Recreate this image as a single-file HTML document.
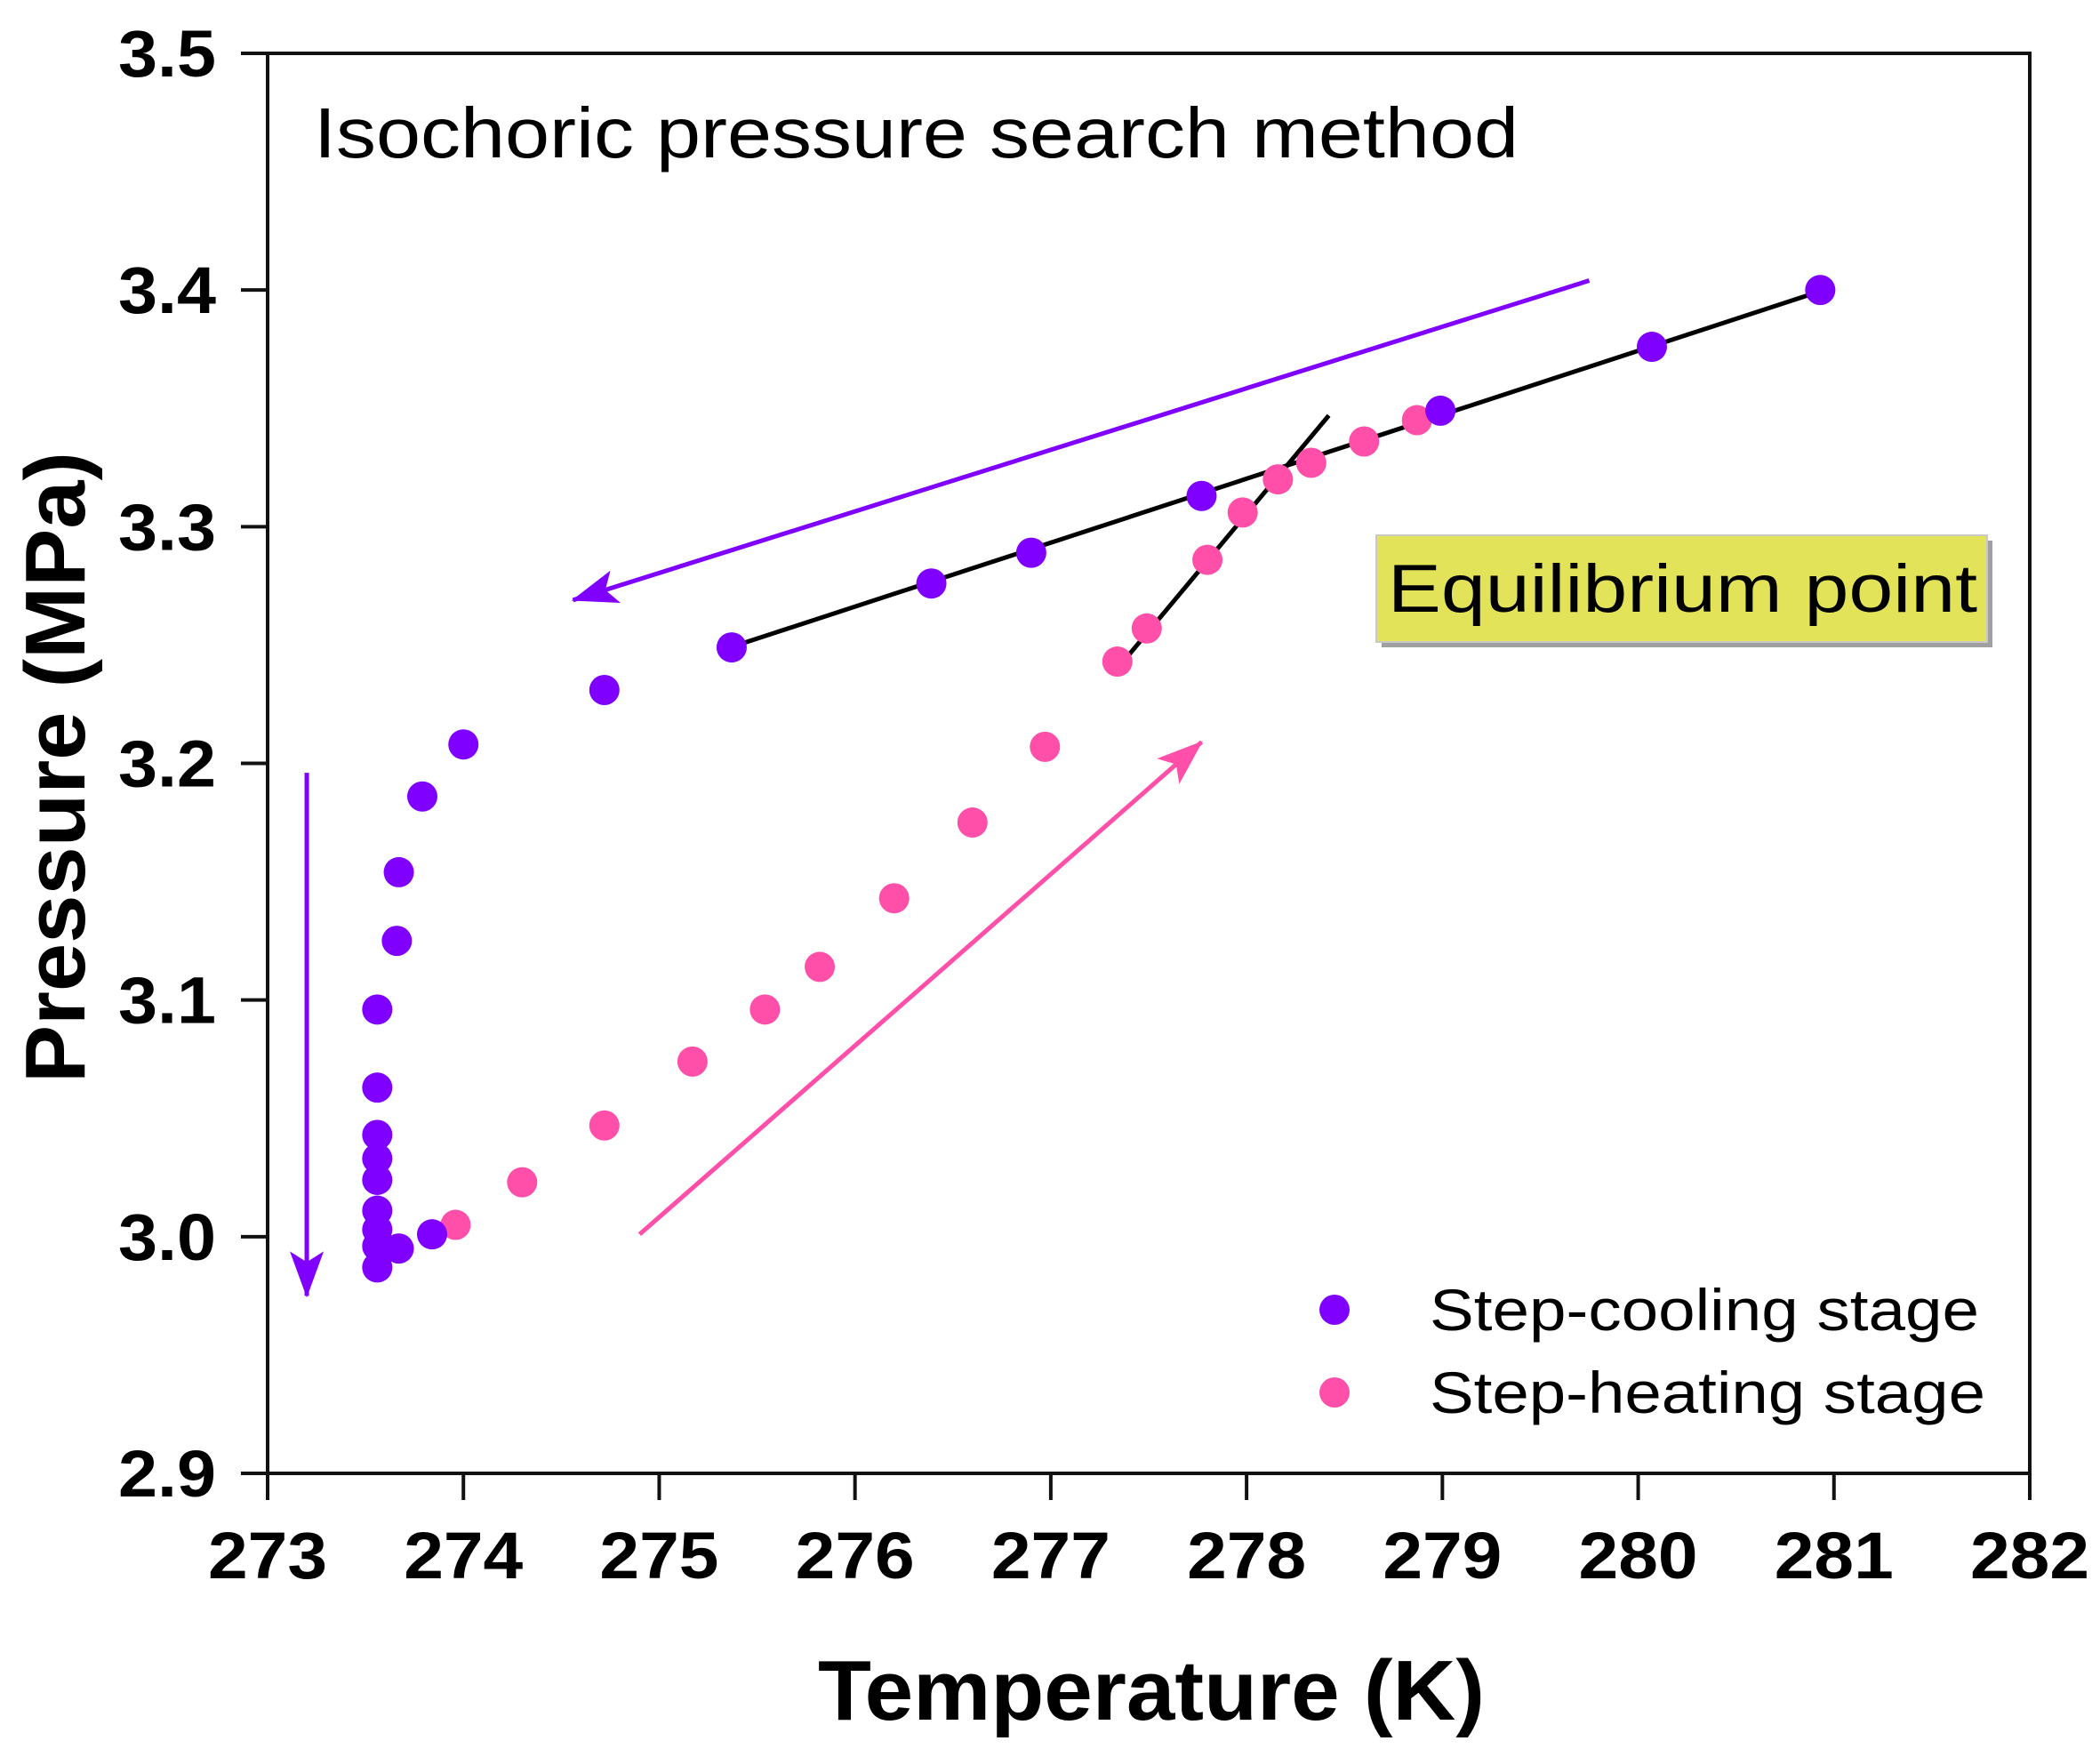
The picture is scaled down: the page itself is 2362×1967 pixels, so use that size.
<!DOCTYPE html>
<html><head><meta charset="utf-8"><style>body{margin:0;background:#fff}svg{display:block}text{font-family:"Liberation Sans",Arial,sans-serif}</style></head>
<body>
<svg id="chart" width="2362" height="1967" viewBox="0 0 2362 1967">
<defs>
<marker id="ap" markerWidth="52" markerHeight="38" refX="50" refY="19" orient="auto" markerUnits="userSpaceOnUse" viewBox="0 0 52 38"><path d="M0,0 L52,19 L0,38 L12,19 Z" fill="#8000ff"/></marker>
<marker id="ak" markerWidth="52" markerHeight="38" refX="50" refY="19" orient="auto" markerUnits="userSpaceOnUse" viewBox="0 0 52 38"><path d="M0,0 L52,19 L0,38 L12,19 Z" fill="#ff4fa8"/></marker>
</defs>
<g id="plot"></g>
</svg>
<script>
const xTicks=[273,274,275,276,277,278,279,280,281,282];
const yTicks=[2.9,3.0,3.1,3.2,3.3,3.4,3.5];
const yTickLabels=["2.9","3.0","3.1","3.2","3.3","3.4","3.5"];
const coolT=[280.93,280.07,278.99,277.77,276.9,276.39,275.37,274.72,274.0,273.79,273.67,273.66,273.56,273.56,273.56,273.56,273.56,273.56,273.56,273.56,273.56,273.67,273.84];
const coolP=[3.4,3.376,3.349,3.313,3.289,3.276,3.249,3.231,3.208,3.186,3.154,3.125,3.096,3.063,3.043,3.033,3.024,3.011,3.003,2.996,2.987,2.995,3.001];
const heatT=[273.96,274.3,274.72,275.17,275.54,275.82,276.2,276.6,276.97,277.34,277.49,277.8,277.98,278.16,278.33,278.6,278.87];
const heatP=[3.005,3.023,3.047,3.074,3.096,3.114,3.143,3.175,3.207,3.243,3.257,3.286,3.306,3.32,3.327,3.336,3.345];
const fitCoolT=[275.4,280.95], fitCoolP=[3.25,3.4];
const fitHeatT=[277.36,278.42], fitHeatP=[3.242,3.347];

const X0=301,X1=2283,Y0=1657,Y1=60;
const x=v=>X0+(v-273)/9*(X1-X0);
const y=v=>Y0-(v-2.9)/0.6*(Y0-Y1);
const NS="http://www.w3.org/2000/svg";
const g=document.getElementById('plot');
function mk(tag,attrs,parent){const e=document.createElementNS(NS,tag);for(const k in attrs)e.setAttribute(k,attrs[k]);(parent||g).appendChild(e);return e;}

const frame=mk('rect',{x:X0,y:Y1,width:X1-X0,height:Y0-Y1,fill:'none',stroke:'#111','stroke-width':4});



xTicks.forEach(v=>{
  const t=mk('line',{x1:x(v),x2:x(v),y1:Y0,y2:Y0+30,stroke:'#111','stroke-width':4});
  
  
  const l=mk('text',{x:x(v),y:Y0+118,'font-size':74,'font-weight':'bold','text-anchor':'middle',textLength:134,lengthAdjust:'spacingAndGlyphs'});
  l.textContent=String(v);
  
  
});
yTicks.forEach((v,i)=>{
  const t=mk('line',{x1:X0-30,x2:X0,y1:y(v),y2:y(v),stroke:'#111','stroke-width':4});
  
  
  const l=mk('text',{x:X0-58,y:y(v)+26,'font-size':74,'font-weight':'bold','text-anchor':'end',textLength:110,lengthAdjust:'spacingAndGlyphs'});
  l.textContent=yTickLabels[i];
  
  
});

const xt=mk('text',{x:1295,y:1934,'font-size':96,'font-weight':'bold','text-anchor':'middle',textLength:750,lengthAdjust:'spacingAndGlyphs'});
xt.textContent='Temperature (K)';


const yt=mk('text',{x:0,y:0,'font-size':96,'font-weight':'bold','text-anchor':'middle',transform:'translate(95,863) rotate(-90)',textLength:710,lengthAdjust:'spacingAndGlyphs'});
yt.textContent='Pressure (MPa)';



const ti=mk('text',{x:353,y:177,'font-size':80,textLength:1355,lengthAdjust:'spacingAndGlyphs'});
ti.textContent='Isochoric pressure search method';



const f1=mk('line',{x1:x(fitCoolT[0]),y1:y(fitCoolP[0]),x2:x(fitCoolT[1]),y2:y(fitCoolP[1]),stroke:'#000','stroke-width':5});


const f2=mk('line',{x1:x(fitHeatT[0]),y1:y(fitHeatP[0]),x2:x(fitHeatT[1]),y2:y(fitHeatP[1]),stroke:'#000','stroke-width':5});



const a1=mk('line',{x1:x(279.75),y1:y(3.404),x2:x(274.56),y2:y(3.269),stroke:'#8000ff','stroke-width':5,'marker-end':'url(#ap)'});


const a2=mk('line',{x1:x(273.2),y1:y(3.196),x2:x(273.2),y2:y(2.975),stroke:'#8000ff','stroke-width':5,'marker-end':'url(#ap)'});


const a3=mk('line',{x1:x(274.9),y1:y(3.001),x2:x(277.77),y2:y(3.209),stroke:'#ff4fa8','stroke-width':5,'marker-end':'url(#ak)'});



heatT.forEach((t,i)=>{
  const c=mk('circle',{cx:x(t),cy:y(heatP[i]),r:17,fill:'#ff4fa8'});
  
  
});
coolT.forEach((t,i)=>{
  const c=mk('circle',{cx:x(t),cy:y(coolP[i]),r:17,fill:'#8000ff'});
  
  
});

const sh=mk('rect',{x:1554,y:608,width:687,height:120,fill:'#a0a0a0'});


const bx=mk('rect',{x:1548,y:602,width:687,height:120,fill:'#e3e35a',stroke:'#c8c8c8','stroke-width':2});


const bt=mk('text',{x:1561,y:688,'font-size':76,textLength:663,lengthAdjust:'spacingAndGlyphs'});
bt.textContent='Equilibrium point';



const lc1=mk('circle',{cx:1501,cy:1473,r:17,fill:'#8000ff'});


const lt1=mk('text',{x:1608,y:1496,'font-size':66,textLength:618,lengthAdjust:'spacingAndGlyphs'});
lt1.textContent='Step-cooling stage';


const lc2=mk('circle',{cx:1501,cy:1566,r:17,fill:'#ff4fa8'});


const lt2=mk('text',{x:1608,y:1589,'font-size':66,textLength:625,lengthAdjust:'spacingAndGlyphs'});
lt2.textContent='Step-heating stage';


</script>
</body></html>
